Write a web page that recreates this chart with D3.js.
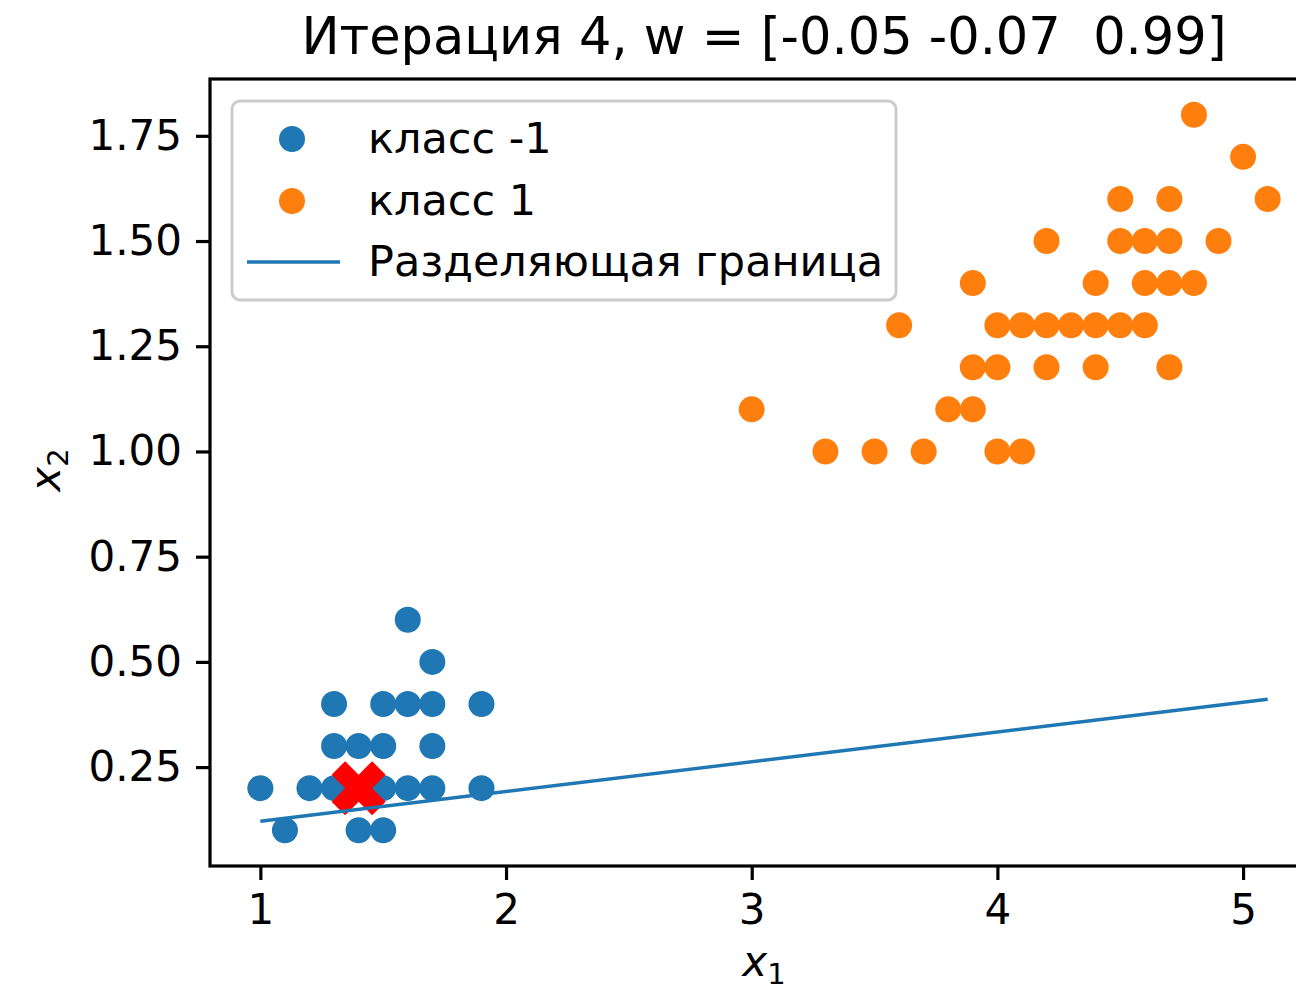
<!DOCTYPE html>
<html>
<head>
<meta charset="utf-8">
<script src="https://cdn.jsdelivr.net/npm/d3@7"></script>
<style>
  body { margin: 0; background: #fff; }
  text { font-family: "DejaVu Sans", sans-serif; fill: #000; }
</style>
</head>
<body>
<div id="chart"></div>
<script>
// class -1 points (x1, x2)
var negX = [1.4, 1.3, 1.5, 1.7, 1.4, 1.5, 1.6, 1.4, 1.1, 1.2, 1.5, 1.3, 1.7, 1.5, 1.0, 1.7, 1.9, 1.6, 1.3, 1.9, 1.6, 1.7];
var negY = [0.2, 0.2, 0.2, 0.4, 0.3, 0.1, 0.2, 0.1, 0.1, 0.2, 0.4, 0.4, 0.3, 0.3, 0.2, 0.5, 0.2, 0.4, 0.3, 0.4, 0.6, 0.2];
// class 1 points
var posX = [4.8, 5.0, 4.5, 4.7, 5.1, 4.2, 4.5, 4.6, 4.7, 4.9, 3.9, 4.4, 4.6, 4.7, 4.8,
            3.6, 4.0, 4.1, 4.2, 4.3, 4.4, 4.5, 4.6, 3.9, 4.0, 4.2, 4.4, 4.7, 3.0, 3.8, 3.9,
            3.3, 3.5, 3.7, 4.0, 4.1];
var posY = [1.8, 1.7, 1.6, 1.6, 1.6, 1.5, 1.5, 1.5, 1.5, 1.5, 1.4, 1.4, 1.4, 1.4, 1.4,
            1.3, 1.3, 1.3, 1.3, 1.3, 1.3, 1.3, 1.3, 1.2, 1.2, 1.2, 1.2, 1.2, 1.1, 1.1, 1.1,
            1.0, 1.0, 1.0, 1.0, 1.0];
// highlighted point
var markX = [1.4];
var markY = [0.2];
// weights [w0, w1, w2] and x range of the boundary
var weights = [-0.05, -0.07, 0.99];
var lineX = [1.0, 5.1];

var xTicks = [1, 2, 3, 4, 5];
var yTicks = [0.25, 0.5, 0.75, 1.0, 1.25, 1.5, 1.75];
var title = 'Итерация 4, w = [-0.05 -0.07  0.99]';
var legendLabels = ['класс -1', 'класс 1', 'Разделяющая граница'];

var width = 1296, height = 991;
var pLeft = 210, pTop = 79, pRight = 1318, pBottom = 866;
var blue = '#1f77b4', orange = '#ff7f0e';

var x = d3.scaleLinear().domain([0.795, 5.305]).range([pLeft, pRight]);
var y = d3.scaleLinear().domain([0.015, 1.885]).range([pBottom, pTop]);

var svg = d3.select('#chart').append('svg')
  .attr('width', width)
  .attr('height', height);

// points
svg.append('g').selectAll('circle.neg')
  .data(d3.range(negX.length))
  .enter().append('circle')
  .attr('cx', (i) => x(negX[i]))
  .attr('cy', (i) => y(negY[i]))
  .attr('r', 13)
  .attr('fill', blue);

svg.append('g').selectAll('circle.pos')
  .data(d3.range(posX.length))
  .enter().append('circle')
  .attr('cx', (i) => x(posX[i]))
  .attr('cy', (i) => y(posY[i]))
  .attr('r', 13)
  .attr('fill', orange);

// filled X marker, same shape as matplotlib 'X'
var xShape = [[-0.25, -0.5], [0, -0.25], [0.25, -0.5], [0.5, -0.25], [0.25, 0], [0.5, 0.25],
              [0.25, 0.5], [0, 0.25], [-0.25, 0.5], [-0.5, 0.25], [-0.25, 0], [-0.5, -0.25]];
var markSize = 54;
svg.append('g').selectAll('path.mark')
  .data(d3.range(markX.length))
  .enter().append('path')
  .attr('d', d3.line().curve(d3.curveLinearClosed)(xShape.map((p) => [p[0] * markSize, p[1] * markSize])))
  .attr('transform', (i) => `translate(${x(markX[i])},${y(markY[i])})`)
  .attr('fill', 'red');

// separating boundary
var boundary = (v) => -(weights[0] + weights[1] * v) / weights[2];
svg.append('path')
  .datum(lineX)
  .attr('d', d3.line().x((v) => x(v)).y((v) => y(boundary(v))))
  .attr('fill', 'none')
  .attr('stroke', blue)
  .attr('stroke-width', 3.4);

// frame
svg.append('rect')
  .attr('x', pLeft).attr('y', pTop)
  .attr('width', pRight - pLeft).attr('height', pBottom - pTop)
  .attr('fill', 'none')
  .attr('stroke', '#000')
  .attr('stroke-width', 3.2);

// axes
var fontSize = 42;
var xAxis = svg.append('g')
  .attr('transform', `translate(0,${pBottom})`)
  .call(d3.axisBottom(x).tickValues(xTicks).tickSize(14).tickPadding(14).tickFormat(d3.format('d')));
var yAxis = svg.append('g')
  .attr('transform', `translate(${pLeft},0)`)
  .call(d3.axisLeft(y).tickValues(yTicks).tickSize(14).tickPadding(14).tickFormat(d3.format('.2f')));
[xAxis, yAxis].forEach((a) => {
  a.select('.domain').remove();
  a.selectAll('line').attr('stroke', '#000').attr('stroke-width', 3.2);
  a.selectAll('text')
    .style('font-family', '"DejaVu Sans", sans-serif')
    .style('font-size', fontSize + 'px')
    .attr('fill', '#000');
});

// title
svg.append('text')
  .attr('x', (pLeft + pRight) / 2)
  .attr('y', 54)
  .attr('text-anchor', 'middle')
  .style('font-size', '51px')
  .style('white-space', 'pre')
  .text(title);

// axis labels
var xl = svg.append('text')
  .attr('x', (pLeft + pRight) / 2)
  .attr('y', 976)
  .attr('text-anchor', 'middle')
  .style('font-size', fontSize + 'px');
xl.append('tspan').style('font-style', 'italic').text('x');
xl.append('tspan').attr('dy', 8).style('font-size', '29px').text('1');

var yl = svg.append('text')
  .attr('transform', `translate(60,470)rotate(-90)`)
  .attr('text-anchor', 'middle')
  .style('font-size', fontSize + 'px');
yl.append('tspan').style('font-style', 'italic').text('x');
yl.append('tspan').attr('dy', 8).style('font-size', '29px').text('2');

// legend
var lg = svg.append('g');
lg.append('rect')
  .attr('x', 232).attr('y', 101)
  .attr('width', 664).attr('height', 199)
  .attr('rx', 8)
  .attr('fill', 'rgba(255,255,255,0.8)')
  .attr('stroke', '#cccccc')
  .attr('stroke-width', 3);
var rowY = [139, 201, 262];
lg.append('circle').attr('cx', 292).attr('cy', rowY[0]).attr('r', 13).attr('fill', blue);
lg.append('circle').attr('cx', 292).attr('cy', rowY[1]).attr('r', 13).attr('fill', orange);
lg.append('line')
  .attr('x1', 247).attr('x2', 340)
  .attr('y1', rowY[2]).attr('y2', rowY[2])
  .attr('stroke', blue).attr('stroke-width', 3.4);
lg.selectAll('text.lab')
  .data(legendLabels)
  .enter().append('text')
  .attr('x', 368)
  .attr('y', (d, i) => rowY[i] + 14)
  .style('font-size', '43px')
  .text((d) => d);
</script>
</body>
</html>
